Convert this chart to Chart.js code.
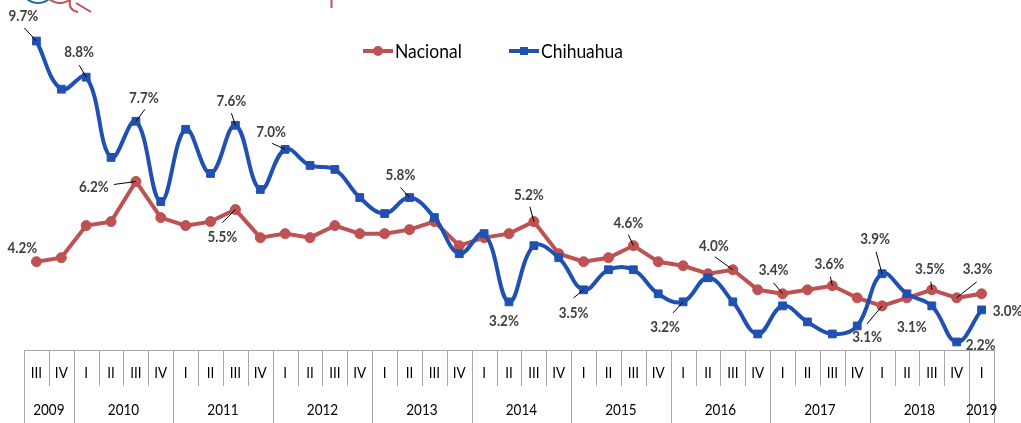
<!DOCTYPE html>
<html>
<head>
<meta charset="utf-8">
<script src="https://cdn.jsdelivr.net/npm/chart.js@4/dist/chart.umd.min.js"></script>
<style>
  html, body { margin: 0; padding: 0; background: #ffffff; }
  #wrap { width: 1021px; height: 423px; position: relative; }
</style>
</head>
<body>
<div id="wrap"><canvas id="c" width="1021" height="423"></canvas></div>
<script>
// ---- Data ----
const quarterLabels = ['III','IV','I','II','III','IV','I','II','III','IV','I','II','III','IV','I','II','III','IV','I','II','III','IV','I','II','III','IV','I','II','III','IV','I','II','III','IV','I','II','III','IV','I'];
const yearLabels = ['2009','2010','2011','2012','2013','2014','2015','2016','2017','2018','2019'];
const quartersPerYear = [2,4,4,4,4,4,4,4,4,4,1];
const nacional = [4.2,4.3,5.1,5.2,6.2,5.3,5.1,5.2,5.5,4.8,4.9,4.8,5.1,4.9,4.9,5.0,5.2,4.6,4.8,4.9,5.2,4.4,4.2,4.3,4.6,4.2,4.1,3.9,4.0,3.5,3.4,3.5,3.6,3.3,3.1,3.3,3.5,3.3,3.4];
const chihuahua = [9.7,8.5,8.8,6.8,7.7,5.7,7.5,6.4,7.6,6.0,7.0,6.6,6.5,5.8,5.4,5.8,5.3,4.4,4.9,3.2,4.6,4.3,3.5,4.0,4.0,3.4,3.2,3.8,3.2,2.4,3.1,2.7,2.4,2.6,3.9,3.4,3.1,2.2,3.0];
const seriesNames = ['Nacional','Chihuahua'];

// category keys (quarter + year)
const categories = [];
(function(){ let k=0; quartersPerYear.forEach((n,yi)=>{ for(let q=0;q<n;q++){ categories.push(yearLabels[yi]+' '+quarterLabels[k]); k++; } }); })();

// ---- Which points get a value label (index, text dx, dy, leader dx, dy) ----
const chLabelSpots = [
  [0,-13,-25,-12,-13],[2,-7,-25,-7,-12],[4,8,-23,9,-12],[8,-4,-24,-4,-12],
  [10,-14,-18,-13,-6],[15,-9,-23,-9,-10],[19,-5,19,null,null],[22,-10,23,-10,8],
  [26,-18,25,-10,11],[34,-7,-35,-6,-22],[36,-20,21,null,null],[37,24,3,null,null],
  [38,26,1,null,null]
];
const naLabelSpots = [
  [0,-14,-14,null,null],[4,-42,5,-22,3],[8,-13,27,-13,13],[20,-5,-27,-4,-15],
  [24,-5,-23,-5,-11],[28,-19,-24,-18,-13],[30,-9,-24,-9,-11],[32,-3,-22,-2,-9],
  [34,-15,31,-15,18],[36,-2,-21,-1,-8],[37,21,-29,20,-16]
];

const RED = '#BE5152';
const BLUE = '#2150B3';
const GRID = '#a6a6a6';
const TXT = '#404040';

function condensedText(ctx, text, x, y, sx, align) {
  ctx.save();
  ctx.translate(x, y);
  ctx.scale(sx, 1);
  ctx.textAlign = align;
  ctx.fillText(text, 0, 0);
  ctx.restore();
}

const decorPlugin = {
  id: 'decor',
  afterDraw(chart) {
    const ctx = chart.ctx;
    const xs = chart.scales.x;
    const ca = chart.chartArea;
    const H = chart.height;
    const half = (xs.getPixelForValue(1) - xs.getPixelForValue(0)) / 2;
    ctx.save();

    // --- category table ---
    ctx.strokeStyle = GRID;
    ctx.lineWidth = 1;
    ctx.beginPath();
    ctx.moveTo(ca.left, ca.bottom + 0.5); ctx.lineTo(ca.right, ca.bottom + 0.5);
    ctx.stroke();
    const yearStarts = [];
    let k = 0;
    quartersPerYear.forEach(n => { yearStarts.push(k); k += n; });
    ctx.beginPath();
    for (let i = 0; i <= categories.length; i++) {
      const bx = Math.round(i < categories.length ? xs.getPixelForValue(i) - half : xs.getPixelForValue(i - 1) + half) + 0.5;
      const isYear = yearStarts.includes(i) || i === categories.length;
      ctx.moveTo(bx, ca.bottom);
      ctx.lineTo(bx, isYear ? H : ca.bottom + 36);
    }
    ctx.stroke();

    ctx.fillStyle = '#000000';
    ctx.textBaseline = 'middle';
    ctx.font = '15px Lato';
    quarterLabels.forEach((q, i) => condensedText(ctx, q, xs.getPixelForValue(i), ca.bottom + 23, 0.9, 'center'));
    yearLabels.forEach((y, yi) => {
      const a = yearStarts[yi], b = a + quartersPerYear[yi] - 1;
      const cx = (xs.getPixelForValue(a) + xs.getPixelForValue(b)) / 2;
      condensedText(ctx, y, cx, ca.bottom + 60, 0.9, 'center');
    });

    // --- value labels ---
    const drawSet = (dsIndex, spots, values) => {
      const meta = chart.getDatasetMeta(dsIndex);
      spots.forEach(s => {
        const [i, dx, dy, lx, ly] = s;
        const p = meta.data[i];
        if (lx !== null) {
          ctx.strokeStyle = '#000000';
          ctx.lineWidth = 1;
          ctx.beginPath();
          ctx.moveTo(p.x + lx, p.y + ly);
          ctx.lineTo(p.x, p.y);
          ctx.stroke();
        }
        ctx.fillStyle = TXT;
        ctx.font = 'bold 16px Lato';
        ctx.textBaseline = 'middle';
        condensedText(ctx, values[i].toFixed(1) + '%', p.x + dx, p.y + dy, 0.84, 'center');
      });
    };
    drawSet(0, naLabelSpots, nacional);
    drawSet(1, chLabelSpots, chihuahua);

    // --- legend ---
    const legendY = 51;
    const items = [
      { name: seriesNames[0], color: RED, x0: 363, style: 'circle' },
      { name: seriesNames[1], color: BLUE, x0: 509, style: 'rect' }
    ];
    items.forEach(it => {
      ctx.strokeStyle = it.color;
      ctx.lineWidth = 4;
      ctx.beginPath();
      ctx.moveTo(it.x0, legendY); ctx.lineTo(it.x0 + 30, legendY);
      ctx.stroke();
      ctx.fillStyle = it.color;
      ctx.beginPath();
      if (it.style === 'circle') ctx.arc(it.x0 + 15, legendY, 5, 0, Math.PI * 2);
      else ctx.rect(it.x0 + 11, legendY - 4, 8, 8);
      ctx.fill();
      ctx.fillStyle = '#000000';
      ctx.font = '19px Lato';
      ctx.textBaseline = 'middle';
      condensedText(ctx, it.name, it.x0 + 32, legendY + 1, 0.92, 'left');
    });

    // --- cropped logo fragments at top-left ---
    ctx.lineWidth = 2;
    ctx.strokeStyle = '#1f6f9a';
    ctx.beginPath(); ctx.arc(38, -14, 17, 0.25 * Math.PI, 0.85 * Math.PI); ctx.stroke();
    ctx.strokeStyle = RED;
    ctx.beginPath(); ctx.arc(60, -14, 17, 0.2 * Math.PI, 0.8 * Math.PI); ctx.stroke();
    ctx.beginPath(); ctx.moveTo(70, 0); ctx.quadraticCurveTo(68, 10, 78, 12); ctx.stroke();
    ctx.beginPath(); ctx.moveTo(76, 3); ctx.lineTo(91, 12); ctx.stroke();
    ctx.beginPath(); ctx.moveTo(331.5, 0); ctx.lineTo(331.5, 8); ctx.stroke();
    ctx.restore();
  }
};

new Chart(document.getElementById('c'), {
  type: 'line',
  data: {
    labels: categories,
    datasets: [
      {
        label: seriesNames[0], data: nacional, order: 2,
        borderColor: RED, backgroundColor: RED, borderWidth: 4,
        pointStyle: 'circle', pointRadius: 5, pointBackgroundColor: RED, pointBorderColor: RED, pointBorderWidth: 1,
        tension: 0, clip: false
      },
      {
        label: seriesNames[1], data: chihuahua, order: 1,
        borderColor: BLUE, backgroundColor: BLUE, borderWidth: 4,
        pointStyle: 'rect', pointRadius: 5.5, pointBackgroundColor: BLUE, pointBorderColor: BLUE, pointBorderWidth: 1,
        tension: 0.4, clip: false
      }
    ]
  },
  options: {
    responsive: false,
    animation: false,
    devicePixelRatio: 1,
    layout: { padding: { left: 24, right: 27, top: 29, bottom: 73 } },
    plugins: { legend: { display: false }, tooltip: { enabled: false } },
    scales: {
      x: { type: 'category', offset: true, display: false },
      y: { min: 2, max: 10, display: false }
    }
  },
  plugins: [decorPlugin]
});
</script>
</body>
</html>
